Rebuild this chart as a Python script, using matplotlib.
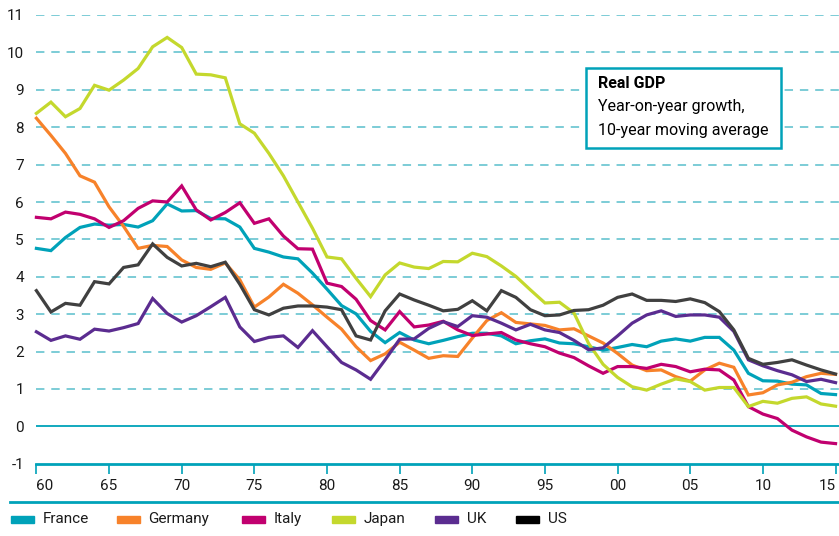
import matplotlib
matplotlib.use("Agg")
import matplotlib.pyplot as plt
from matplotlib.patches import Rectangle
from matplotlib.lines import Line2D
import numpy as np

plt.rcParams['font.family'] = ['Roboto', 'DejaVu Sans']

years = list(range(1960, 2016))

france = [4.76, 4.70, 5.05, 5.32, 5.41, 5.38, 5.40, 5.33, 5.50, 5.95,
          5.76, 5.77, 5.56, 5.55, 5.33, 4.76, 4.66, 4.53, 4.48, 4.10,
          3.67, 3.23, 3.01, 2.54, 2.24, 2.51, 2.31, 2.21, 2.30, 2.40,
          2.49, 2.49, 2.42, 2.21, 2.29, 2.34, 2.23, 2.21, 2.13, 2.04,
          2.11, 2.19, 2.13, 2.28, 2.34, 2.28, 2.38, 2.38, 2.04, 1.42,
          1.22, 1.21, 1.13, 1.11, 0.88, 0.85]
germany = [8.24, 7.78, 7.30, 6.70, 6.53, 5.87, 5.35, 4.76, 4.84, 4.81,
           4.45, 4.25, 4.20, 4.37, 3.92, 3.19, 3.46, 3.80, 3.56, 3.25,
           2.92, 2.60, 2.13, 1.76, 1.94, 2.25, 2.04, 1.82, 1.89, 1.87,
           2.36, 2.83, 3.04, 2.78, 2.74, 2.70, 2.58, 2.61, 2.42, 2.23,
           1.95, 1.64, 1.49, 1.51, 1.33, 1.21, 1.51, 1.69, 1.58, 0.84,
           0.90, 1.11, 1.18, 1.33, 1.42, 1.39]
italy = [5.59, 5.55, 5.73, 5.67, 5.55, 5.32, 5.50, 5.83, 6.03, 6.00,
         6.43, 5.79, 5.52, 5.72, 5.98, 5.43, 5.55, 5.09, 4.75, 4.74,
         3.83, 3.74, 3.40, 2.83, 2.58, 3.07, 2.66, 2.71, 2.81, 2.58,
         2.43, 2.47, 2.51, 2.31, 2.21, 2.13, 1.96, 1.84, 1.62, 1.42,
         1.60, 1.60, 1.55, 1.66, 1.60, 1.46, 1.53, 1.51, 1.24, 0.53,
         0.33, 0.21, -0.10, -0.28, -0.42, -0.46]
japan = [8.37, 8.67, 8.28, 8.50, 9.12, 8.99, 9.26, 9.57, 10.15, 10.40,
         10.13, 9.42, 9.40, 9.32, 8.09, 7.84, 7.30, 6.70, 6.00, 5.30,
         4.53, 4.48, 3.96, 3.47, 4.05, 4.37, 4.26, 4.22, 4.41, 4.40,
         4.63, 4.54, 4.29, 4.01, 3.65, 3.30, 3.32, 3.03, 2.22, 1.66,
         1.31, 1.06, 0.97, 1.13, 1.27, 1.20, 0.97, 1.04, 1.04, 0.53,
         0.67, 0.62, 0.75, 0.79, 0.60, 0.54]
uk = [2.53, 2.30, 2.42, 2.33, 2.60, 2.55, 2.64, 2.75, 3.42, 3.02,
      2.79, 2.96, 3.20, 3.45, 2.66, 2.27, 2.38, 2.42, 2.11, 2.56,
      2.13, 1.71, 1.51, 1.26, 1.78, 2.33, 2.34, 2.62, 2.80, 2.67,
      2.96, 2.92, 2.76, 2.58, 2.73, 2.58, 2.51, 2.30, 2.05, 2.10,
      2.42, 2.76, 2.98, 3.09, 2.94, 2.98, 2.98, 2.92, 2.54, 1.78,
      1.62, 1.49, 1.38, 1.20, 1.26, 1.17]
us = [3.63, 3.06, 3.29, 3.24, 3.87, 3.81, 4.25, 4.32, 4.88, 4.52,
      4.29, 4.36, 4.27, 4.39, 3.80, 3.12, 2.98, 3.16, 3.22, 3.22,
      3.19, 3.12, 2.42, 2.31, 3.09, 3.54, 3.38, 3.24, 3.09, 3.13,
      3.36, 3.09, 3.63, 3.45, 3.12, 2.96, 2.98, 3.10, 3.12, 3.24,
      3.45, 3.54, 3.37, 3.37, 3.34, 3.41, 3.31, 3.07, 2.58, 1.82,
      1.66, 1.71, 1.78, 1.64, 1.51, 1.40]

series_names = ["France", "Germany", "Italy", "Japan", "UK", "US"]
series_values = [france, germany, italy, japan, uk, us]
line_colors = ["#00a2b9", "#f7822a", "#c1006f", "#c4d82d", "#5b2c90", "#404040"]
legend_colors = ["#00a2b9", "#f7822a", "#c1006f", "#c4d82d", "#5b2c90", "#000000"]

yticks = list(range(-1, 12))
xticks = list(range(1960, 2016, 5))
xtick_labels = ["60", "65", "70", "75", "80", "85", "90", "95", "00", "05", "10", "15"]

W, H = 839, 536
fig = plt.figure(figsize=(W / 100, H / 100), dpi=100)

# axes placement in pixels
x_left, x_right = 36.4, 839
y_top, y_bot = 15.0, 463.8
ax = fig.add_axes([x_left / W, (H - y_bot) / H, (x_right - x_left) / W, (y_bot - y_top) / H])
ax.set_xlim(1960, 1960 + (x_right - x_left) / 14.53)
ax.set_ylim(-1, 11)
for s in ax.spines.values():
    s.set_visible(False)

grid_c = "#59bfcc"
teal = "#00a2b9"
for v in yticks:
    if v == 0:
        ax.axhline(v, color=teal, lw=1.3, zorder=1)
    elif v == -1:
        pass
    else:
        ax.axhline(v, color=grid_c, lw=1.1, ls=(0, (5.5, 4.5)), zorder=1)

ax.axhline(-1, color=teal, lw=2.0, zorder=3, clip_on=False)

for name, vals, c in zip(series_names, series_values, line_colors):
    ax.plot(years, vals, color=c, lw=2.3, solid_joinstyle='miter', zorder=4, clip_on=False)

ax.set_yticks(yticks)
ax.set_yticklabels([str(v) for v in yticks], fontsize=11, color="#1a1a1a")
ax.tick_params(axis='y', length=0, pad=9)
ax.set_xticks(xticks)
ax.set_xticklabels(xtick_labels, fontsize=11, color="#1a1a1a")
ax.tick_params(axis='x', length=7, width=1.2, color=teal, pad=4, direction='out')
ax.get_xticklabels()[0].set_horizontalalignment('left')
ax.get_xticklabels()[-1].set_horizontalalignment('right')

# separator line
fig.add_artist(Line2D([10 / W, 1.0], [(H - 502) / H] * 2, color=teal, lw=2.0))

# legend
legend_x = [10.7, 116.6, 242, 332, 435, 516]
ly = (H - 519) / H
for name, c, lx in zip(series_names, legend_colors, legend_x):
    fig.add_artist(Rectangle((lx / W, ly - 3.5 / H), 23 / W, 7 / H, color=c, transform=fig.transFigure))
    fig.text((lx + 32) / W, ly, name, fontsize=11, va='center', ha='left', color="#1a1a1a")

# annotation box
bx0, by0, bx1, by1 = 586, 68, 781, 148
fig.add_artist(Rectangle((bx0 / W, (H - by1) / H), (bx1 - bx0) / W, (by1 - by0) / H,
                         facecolor='white', edgecolor=teal, lw=1.8, transform=fig.transFigure, zorder=10))
fig.text(598 / W, (H - 84) / H, "Real GDP", fontsize=11.5, fontweight='bold', va='center', ha='left', zorder=11)
fig.text(598 / W, (H - 107) / H, "Year-on-year growth,", fontsize=11.5, va='center', ha='left', zorder=11)
fig.text(598 / W, (H - 130) / H, "10-year moving average", fontsize=11.5, va='center', ha='left', zorder=11)

fig.savefig("out.png", dpi=100, facecolor='white')
